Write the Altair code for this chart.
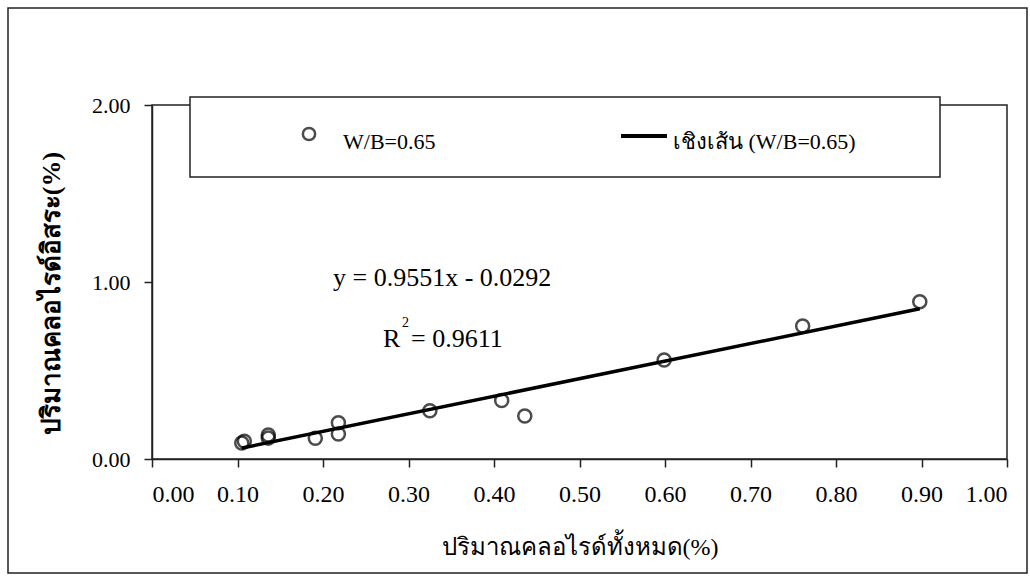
import altair as alt
import pandas as pd

# data
total_cl = [0.105, 0.108, 0.136, 0.136, 0.191, 0.218, 0.218, 0.325, 0.409, 0.436, 0.599, 0.761, 0.898]
free_cl = [0.090, 0.100, 0.136, 0.118, 0.117, 0.205, 0.141, 0.273, 0.330, 0.243, 0.559, 0.751, 0.889]
x_ticks = [0.0, 0.1, 0.2, 0.3, 0.4, 0.5, 0.6, 0.7, 0.8, 0.9, 1.0]
y_ticks = [0.0, 1.0, 2.0]
x_title = "ปริมาณคลอไรด์ทั้งหมด(%)"
y_title = "ปริมาณคลอไรด์อิสระ(%)"
series_label = "W/B=0.65"
trend_label = "เชิงเส้น (W/B=0.65)"
eq_text = "y = 0.9551x - 0.0292"
r2_text = "= 0.9611"

df = pd.DataFrame({"x": total_cl, "y": free_cl})
one = pd.DataFrame({"a": [0]})

SERIF = "Liberation Serif"
W, H = 855, 354

xs = alt.X("x:Q", scale=alt.Scale(domain=[0, 1], nice=False),
           axis=alt.Axis(values=x_ticks, format=".2f", title=x_title,
                         labelFontSize=24, labelPadding=15,
                         titleFontSize=24, titleFontWeight="normal",
                         titleBaseline="middle", titleY=88))
ys = alt.Y("y:Q", scale=alt.Scale(domain=[0, 2], nice=False),
           axis=alt.Axis(values=y_ticks, format=".2f", title=y_title,
                         labelFontSize=22, labelPadding=14,
                         titleFontSize=26, titleFontWeight="bold",
                         titleBaseline="middle", titleX=-101, titleY=188,
                         titleAngle=270))

frame = alt.Chart(one).mark_rect(fill=None, stroke="#222", strokeWidth=1.5).encode(
    x=alt.value(-144), x2=alt.value(875), y=alt.value(-97), y2=alt.value(468))

points = alt.Chart(df).mark_point(shape="circle", filled=False, color="black",
                                  strokeWidth=2.5, size=170).encode(x=xs, y=ys)

trend = alt.Chart(df).transform_regression("x", "y").mark_line(
    color="black", strokeWidth=3.5).encode(x="x:Q", y="y:Q")

leg_box = alt.Chart(one).mark_rect(fill="white", stroke="#222", strokeWidth=1.5).encode(
    x=alt.value(38), x2=alt.value(788), y=alt.value(-8), y2=alt.value(72))
leg_pt = alt.Chart(one).mark_point(shape="circle", filled=False, color="black",
                                   strokeWidth=2.5, size=150).encode(
    x=alt.value(157), y=alt.value(29))
leg_line = alt.Chart(one).mark_rule(color="black", strokeWidth=4).encode(
    x=alt.value(469), x2=alt.value(515), y=alt.value(31))
leg_t1 = alt.Chart(one).mark_text(align="left", baseline="middle", font=SERIF,
                                  fontSize=22, color="black").encode(
    x=alt.value(191), y=alt.value(37), text=alt.value(series_label))
leg_t2 = alt.Chart(one).mark_text(align="left", baseline="middle", font=SERIF,
                                  fontSize=22, color="black").encode(
    x=alt.value(521), y=alt.value(37), text=alt.value(trend_label))

eq = alt.Chart(one).mark_text(align="left", baseline="alphabetic", font=SERIF,
                              fontSize=26, color="black").encode(
    x=alt.value(181), y=alt.value(181), text=alt.value(eq_text))
r_t = alt.Chart(one).mark_text(align="left", baseline="alphabetic", font=SERIF,
                               fontSize=26, color="black").encode(
    x=alt.value(231), y=alt.value(242), text=alt.value("R"))
r_sup = alt.Chart(one).mark_text(align="left", baseline="alphabetic", font=SERIF,
                                 fontSize=14, color="black").encode(
    x=alt.value(250), y=alt.value(222), text=alt.value("2"))
r_val = alt.Chart(one).mark_text(align="left", baseline="alphabetic", font=SERIF,
                                 fontSize=26, color="black").encode(
    x=alt.value(259), y=alt.value(242), text=alt.value(r2_text))

chart = alt.layer(frame, trend, points, leg_box, leg_pt, leg_line, leg_t1, leg_t2,
                  eq, r_t, r_sup, r_val).properties(
    width=W, height=H, autosize="none",
    padding={"left": 152, "top": 105, "right": 23, "bottom": 126},
    background="white",
).configure_view(stroke="#222", strokeWidth=1.5).configure_axis(
    grid=False, domainColor="#222", domainWidth=1.5, tickColor="#222",
    tickWidth=1.5, tickSize=8, labelColor="black", titleColor="black",
    labelFont=SERIF, titleFont=SERIF,
)

chart.save("out.html", embed_options={"renderer": "svg", "actions": False})
